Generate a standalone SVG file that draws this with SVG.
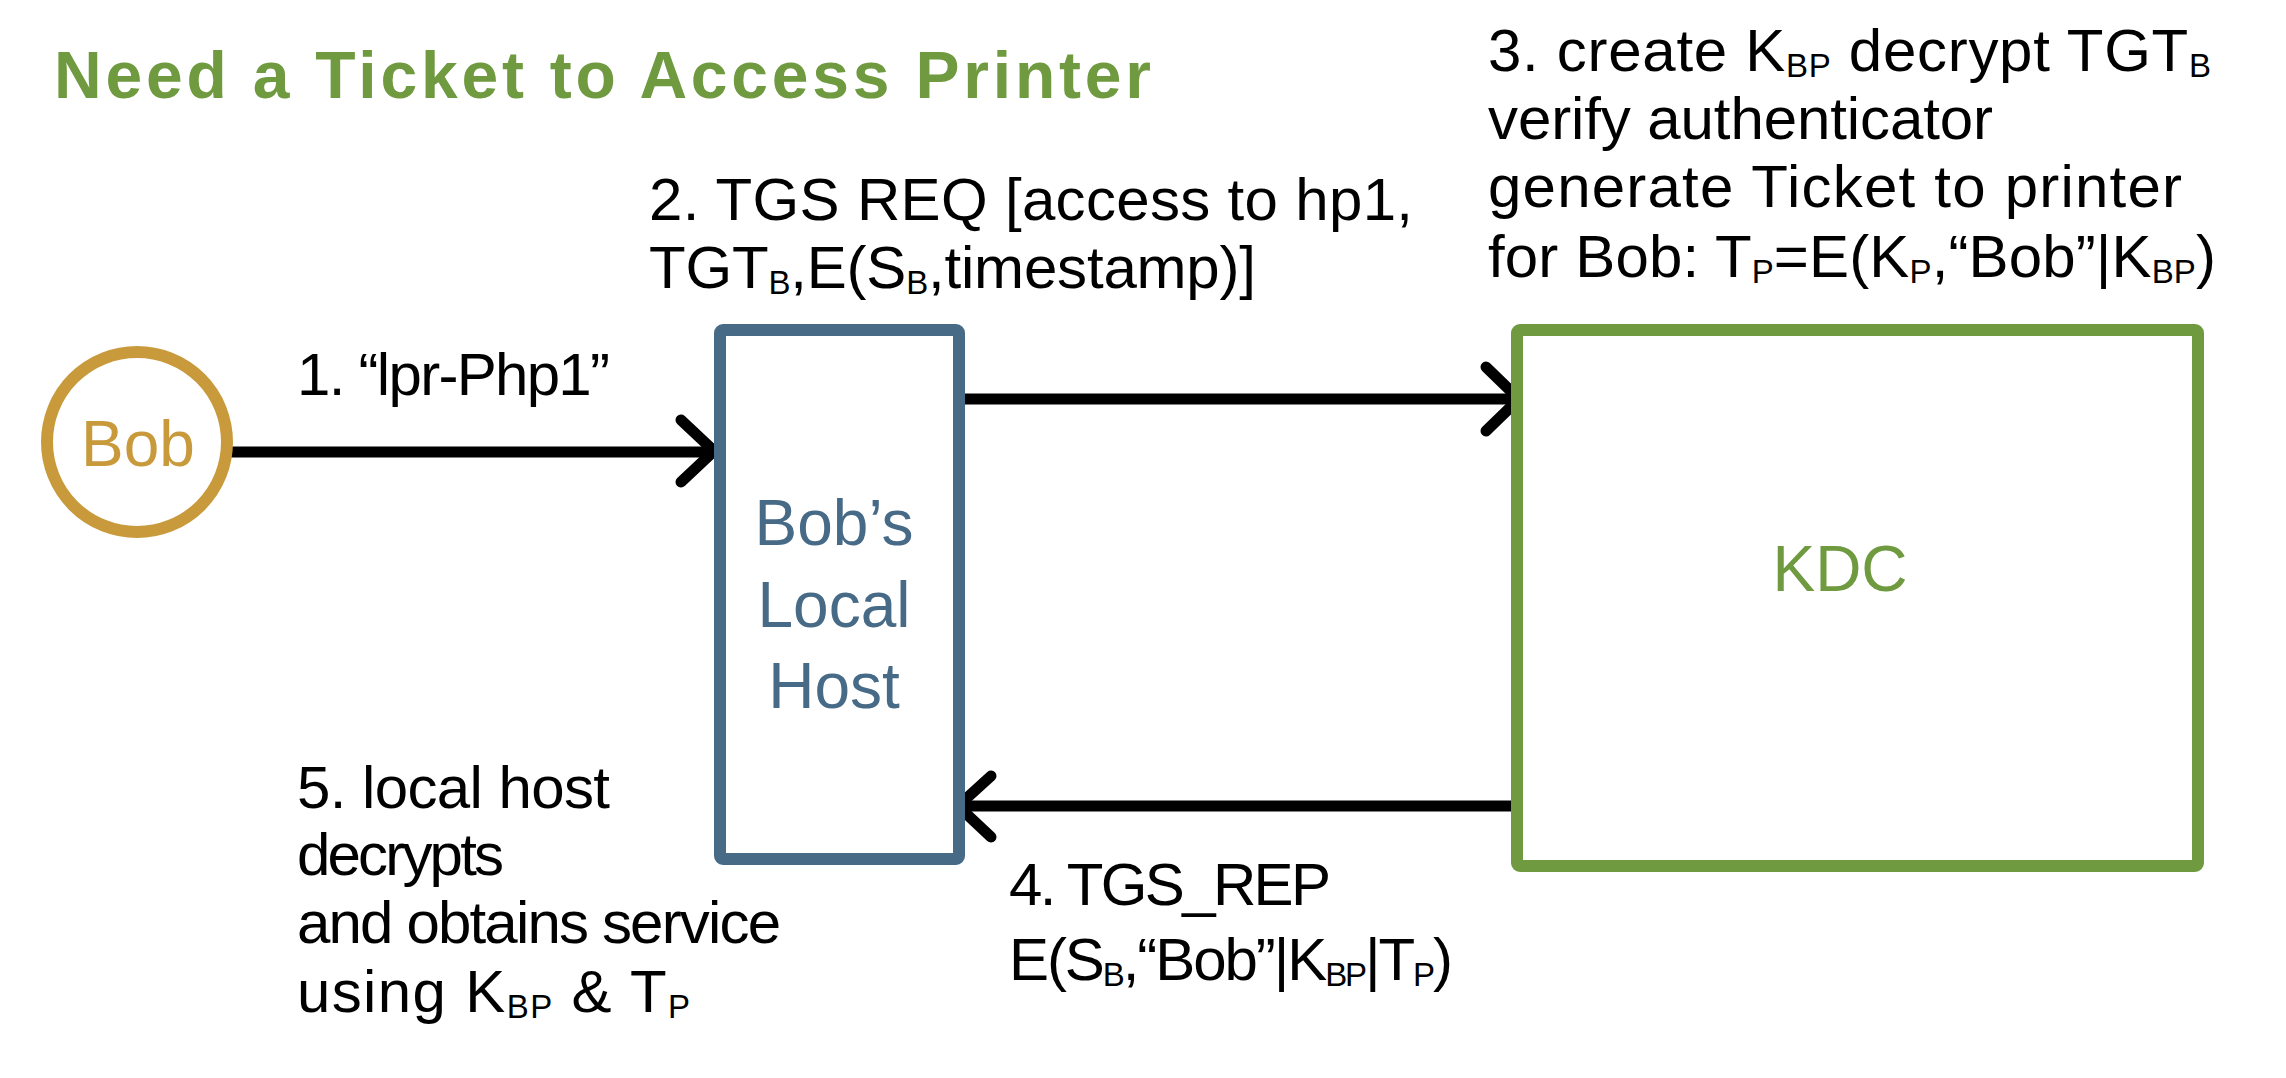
<svg xmlns="http://www.w3.org/2000/svg" width="2286" height="1078" viewBox="0 0 2286 1078">
<style>
  .lbl { font-family: "Liberation Sans", Arial, sans-serif; font-size: 60px; fill: #000; }
  .s { font-size: 33px; }
  .title { font-family: "Liberation Sans", Arial, sans-serif; font-size: 66px; font-weight: bold; fill: #6f9a3f; }
  .ntext { font-family: "Liberation Sans", Arial, sans-serif; font-size: 64px; text-anchor: middle; }
  .conn { stroke: #000; stroke-width: 11; fill: none; stroke-linecap: round; stroke-linejoin: round; }
</style>
<rect x="0" y="0" width="2286" height="1078" fill="#ffffff"/>

<g id="title">
  <text class="title" x="54" y="98" textLength="1097" lengthAdjust="spacing">Need a Ticket to Access Printer</text>
</g>

<g id="connectors">
  <line class="conn" x1="233" y1="452" x2="712" y2="452" stroke-linecap="butt"/>
  <polyline class="conn" points="681,420 714,451 681,482"/>
  <line class="conn" x1="965" y1="399" x2="1516" y2="399" stroke-linecap="butt"/>
  <polyline class="conn" points="1486,367 1519,399 1486,431"/>
  <line class="conn" x1="1512" y1="806" x2="960" y2="806" stroke-linecap="butt"/>
  <polyline class="conn" points="991,776 958,806 991,837"/>
</g>

<g id="node-bob">
  <circle cx="137" cy="442" r="90" fill="#ffffff" stroke="#c89a3c" stroke-width="12"/>
  <text class="ntext" x="138" y="466" fill="#c89a3c" font-size="60">Bob</text>
</g>

<g id="node-localhost">
  <rect x="720" y="330" width="239" height="529" rx="3" fill="#ffffff" stroke="#476a87" stroke-width="12"/>
  <text class="ntext" fill="#476a87" x="834" y="545">Bob’s</text>
  <text class="ntext" fill="#476a87" x="834" y="627">Local</text>
  <text class="ntext" fill="#476a87" x="834" y="708">Host</text>
</g>

<g id="node-kdc">
  <rect x="1517" y="330" width="681" height="536" rx="3" fill="#ffffff" stroke="#6f9a3f" stroke-width="12"/>
  <text class="ntext" fill="#6f9a3f" x="1840" y="591" font-size="66">KDC</text>
</g>

<g id="labels">
  <text class="lbl" x="297" y="395" textLength="313">1. “lpr-Php1”</text>

  <text class="lbl" x="649" y="220" textLength="764">2. TGS REQ [access to hp1,</text>
  <text class="lbl" x="649" y="288" textLength="607">TGT<tspan class="s" dy="6">B</tspan><tspan dy="-6">,E(S</tspan><tspan class="s" dy="6">B</tspan><tspan dy="-6">,timestamp)]</tspan></text>

  <text class="lbl" x="1488" y="71" textLength="723">3. create K<tspan class="s" dy="6">BP</tspan><tspan dy="-6"> decrypt TGT</tspan><tspan class="s" dy="6">B</tspan></text>
  <text class="lbl" x="1488" y="139" textLength="505">verify authenticator</text>
  <text class="lbl" x="1488" y="207" textLength="694">generate Ticket to printer</text>
  <text class="lbl" x="1488" y="277" textLength="728">for Bob: T<tspan class="s" dy="6">P</tspan><tspan dy="-6">=E(K</tspan><tspan class="s" dy="6">P</tspan><tspan dy="-6">,“Bob”|K</tspan><tspan class="s" dy="6">BP</tspan><tspan dy="-6">)</tspan></text>

  <text class="lbl" x="1009" y="905" textLength="322">4. TGS_REP</text>
  <text class="lbl" x="1009" y="980" textLength="444">E(S<tspan class="s" dy="6">B</tspan><tspan dy="-6">,“Bob”|K</tspan><tspan class="s" dy="6">BP</tspan><tspan dy="-6">|T</tspan><tspan class="s" dy="6">P</tspan><tspan dy="-6">)</tspan></text>

  <text class="lbl" x="297" y="808" textLength="313">5. local host</text>
  <text class="lbl" x="297" y="875" textLength="207">decrypts</text>
  <text class="lbl" x="297" y="943" textLength="484">and obtains service</text>
  <text class="lbl" x="297" y="1012" textLength="393">using K<tspan class="s" dy="6">BP</tspan><tspan dy="-6"> &amp; T</tspan><tspan class="s" dy="6">P</tspan></text>
</g>
</svg>
